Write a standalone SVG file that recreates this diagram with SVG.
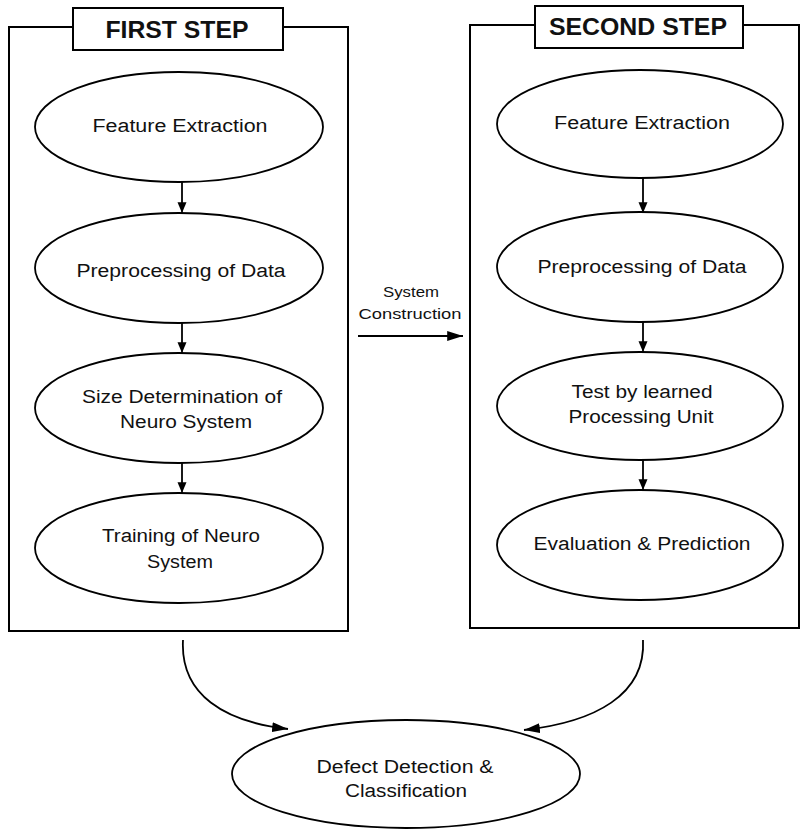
<svg xmlns="http://www.w3.org/2000/svg" width="801" height="830" viewBox="0 0 801 830">
<defs>
<style>
.frame{fill:none;stroke:#000;stroke-width:2}
.node{fill:#fff;stroke:#000;stroke-width:1.8}
.t{font-family:"Liberation Sans",Arial,sans-serif;font-size:18px;fill:#111;text-anchor:middle}
.title{font-family:"Liberation Sans",Arial,sans-serif;font-size:23px;font-weight:bold;fill:#111;text-anchor:middle}
.small{font-family:"Liberation Sans",Arial,sans-serif;font-size:15.5px;fill:#111;text-anchor:middle}
.conn{fill:none;stroke:#000;stroke-width:1.8}
</style>
<marker id="ah" viewBox="0 0 10 12" refX="12" refY="5" markerWidth="5" markerHeight="6" markerUnits="strokeWidth" orient="auto">
<path d="M0,0 L12,5 L0,10 Z" fill="#000"/>
</marker>
<marker id="ahl" viewBox="0 0 16 10" refX="16" refY="5" markerWidth="9" markerHeight="5.5" markerUnits="strokeWidth" orient="auto">
<path d="M0,0 L16,5 L0,10 Z" fill="#000"/>
</marker>
</defs>

<g id="first-step">
<path class="frame" d="M73,27 H9 V631 H348 V27 H283"/>
<rect class="frame" x="73" y="8" width="210" height="42"/>
<text class="title" x="177" y="38" textLength="143" lengthAdjust="spacingAndGlyphs">FIRST  STEP</text>
</g>

<g id="second-step">
<path class="frame" d="M535,25 H470 V628 H799 V25 H743"/>
<rect class="frame" x="535" y="6" width="208" height="42"/>
<text class="title" x="638" y="35" textLength="178" lengthAdjust="spacingAndGlyphs">SECOND  STEP</text>
</g>

<g id="connectors">
<line class="conn" x1="182" y1="182" x2="182" y2="213" marker-end="url(#ah)"/>
<line class="conn" x1="182" y1="323" x2="182" y2="353" marker-end="url(#ah)"/>
<line class="conn" x1="182" y1="463" x2="182" y2="493" marker-end="url(#ah)"/>
<line class="conn" x1="643" y1="178" x2="643" y2="213" marker-end="url(#ah)"/>
<line class="conn" x1="643" y1="322" x2="643" y2="352" marker-end="url(#ah)"/>
<line class="conn" x1="643" y1="460" x2="643" y2="490" marker-end="url(#ah)"/>
<line class="conn" x1="358" y1="336" x2="463" y2="336" marker-end="url(#ahl)"/>
<path class="conn" d="M183,640 C180,695 225,722 288,729" marker-end="url(#ahl)"/>
<path class="conn" d="M643,640 C646,695 595,722 524,730" marker-end="url(#ahl)"/>
</g>

<g id="sys-label">
<text class="small" x="411" y="297" textLength="56" lengthAdjust="spacingAndGlyphs">System</text>
<text class="small" x="410" y="319" textLength="103" lengthAdjust="spacingAndGlyphs">Construction</text>
</g>

<g id="n1-feature">
<ellipse class="node" cx="179" cy="127" rx="144" ry="55"/>
<text class="t" x="180" y="132" textLength="175" lengthAdjust="spacingAndGlyphs">Feature  Extraction</text>
</g>
<g id="n1-preproc">
<ellipse class="node" cx="179" cy="268" rx="144" ry="55"/>
<text class="t" x="181" y="277" textLength="209" lengthAdjust="spacingAndGlyphs">Preprocessing of Data</text>
</g>
<g id="n1-size">
<ellipse class="node" cx="179" cy="408" rx="144" ry="55"/>
<text class="t" x="182" y="403" textLength="200" lengthAdjust="spacingAndGlyphs">Size Determination of</text>
<text class="t" x="186" y="428" textLength="132" lengthAdjust="spacingAndGlyphs">Neuro System</text>
</g>
<g id="n1-training">
<ellipse class="node" cx="179" cy="548" rx="144" ry="55"/>
<text class="t" x="181" y="542" textLength="158" lengthAdjust="spacingAndGlyphs">Training of Neuro</text>
<text class="t" x="180" y="568" textLength="66" lengthAdjust="spacingAndGlyphs">System</text>
</g>

<g id="n2-feature">
<ellipse class="node" cx="640" cy="124" rx="143" ry="54"/>
<text class="t" x="642" y="129" textLength="176" lengthAdjust="spacingAndGlyphs">Feature  Extraction</text>
</g>
<g id="n2-preproc">
<ellipse class="node" cx="640" cy="267" rx="143" ry="55"/>
<text class="t" x="642" y="273" textLength="209" lengthAdjust="spacingAndGlyphs">Preprocessing of Data</text>
</g>
<g id="n2-test">
<ellipse class="node" cx="640" cy="406" rx="143" ry="54"/>
<text class="t" x="642" y="398" textLength="141" lengthAdjust="spacingAndGlyphs">Test by learned</text>
<text class="t" x="641" y="423" textLength="145" lengthAdjust="spacingAndGlyphs">Processing Unit</text>
</g>
<g id="n2-eval">
<ellipse class="node" cx="640" cy="545" rx="143" ry="55"/>
<text class="t" x="642" y="550" textLength="217" lengthAdjust="spacingAndGlyphs">Evaluation &amp; Prediction</text>
</g>

<g id="n-defect">
<ellipse class="node" cx="406" cy="774" rx="174" ry="54"/>
<text class="t" x="405" y="773" textLength="177" lengthAdjust="spacingAndGlyphs">Defect Detection &amp;</text>
<text class="t" x="406" y="797" textLength="122" lengthAdjust="spacingAndGlyphs">Classification</text>
</g>
</svg>
